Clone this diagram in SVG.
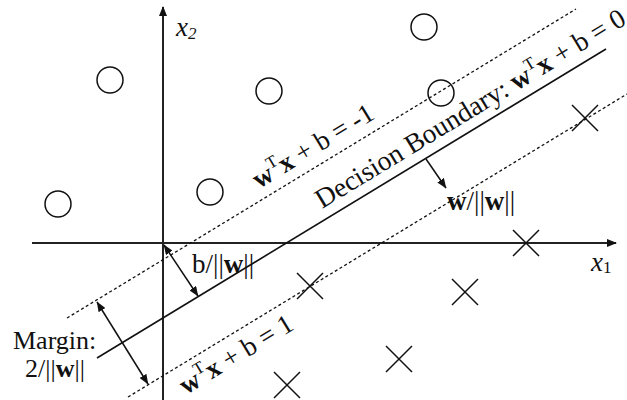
<svg xmlns="http://www.w3.org/2000/svg" width="627" height="400" viewBox="0 0 627 400">
<style>
.t{font-family:"Liberation Serif","Times New Roman",serif;font-size:27px;fill:#111}
.b{font-weight:bold}
.sup{font-size:17px}
.it{font-style:italic}
.pt{fill:none;stroke:#111;stroke-width:1.5}
.axis{stroke:#222;stroke-width:2;fill:none}
.dash{stroke:#111;stroke-width:1.3;stroke-dasharray:3 2.5;fill:none}
.solid{stroke:#111;stroke-width:1.6;fill:none}
.arr{stroke:#111;stroke-width:1.5;fill:none}
</style>
<defs>
<marker id="ax" viewBox="0 0 10 8" refX="9" refY="4" markerWidth="10" markerHeight="8" markerUnits="userSpaceOnUse" orient="auto"><path d="M0,0 L10,4 L0,8 z" fill="#111"/></marker>
<marker id="ah" viewBox="0 0 10 8" refX="9.5" refY="4" markerWidth="10" markerHeight="8" markerUnits="userSpaceOnUse" orient="auto-start-reverse"><path d="M0,0 L10,4 L0,8 z" fill="#111"/></marker>
</defs>
<g id="connectors">
<line id="x1-axis" class="axis" x1="32" y1="243" x2="616" y2="243" marker-end="url(#ax)"/>
<line id="x2-axis" class="axis" x1="163" y1="400" x2="163" y2="7" marker-end="url(#ax)"/>
<line id="boundary" class="solid" x1="97" y1="358" x2="606" y2="49"/>
<line id="margin-neg" class="dash" x1="67" y1="318" x2="576" y2="9"/>
<line id="margin-pos" class="dash" x1="128" y1="397" x2="627" y2="94"/>
<line id="b-arrow" class="arr" x1="164" y1="245" x2="198" y2="296" marker-start="url(#ah)" marker-end="url(#ah)"/>
<line id="margin-arrow" class="arr" x1="97" y1="302" x2="148" y2="384" marker-start="url(#ah)" marker-end="url(#ah)"/>
<line id="w-arrow" class="arr" x1="426" y1="159" x2="446" y2="188" marker-end="url(#ah)"/>
</g>
<g id="circles">
<circle class="pt" cx="110" cy="80" r="13"/>
<circle class="pt" cx="269" cy="91" r="13"/>
<circle class="pt" cx="210" cy="192" r="13"/>
<circle class="pt" cx="58" cy="204" r="13"/>
<circle class="pt" cx="424" cy="27" r="13"/>
<circle class="pt" cx="441" cy="93" r="13"/>
</g>
<g id="crosses" class="pt">
<path d="M572,105 L598,131 M598,105 L572,131"/>
<path d="M513,230 L539,256 M539,230 L513,256"/>
<path d="M297,273 L323,299 M323,273 L297,299"/>
<path d="M452,279 L478,305 M478,279 L452,305"/>
<path d="M386,346 L412,372 M412,346 L386,372"/>
<path d="M274,372 L300,398 M300,372 L274,398"/>
</g>
<g id="axis-labels">
<text class="t it" x="176" y="36">x<tspan class="sup" dy="3">2</tspan></text>
<text class="t it" x="591" y="271">x<tspan class="sup" dy="2" style="font-style:normal">1</tspan></text>
</g>
<g id="label-neg">
<text class="t" transform="translate(259,189) rotate(-31.26)"><tspan class="b">w</tspan><tspan class="sup" dy="-11">T</tspan><tspan class="b" dy="11">x</tspan> + b = -1</text>
</g>
<g id="label-boundary">
<text class="t" style="font-size:27.5px" transform="translate(322,209) rotate(-31.26)">Decision Boundary: <tspan class="b">w</tspan><tspan class="sup" dy="-11">T</tspan><tspan class="b" dy="11">x</tspan> + b = 0</text>
</g>
<g id="label-pos">
<text class="t" transform="translate(186,395) rotate(-31.26)"><tspan class="b">w</tspan><tspan class="sup" dy="-11">T</tspan><tspan class="b" dy="11">x</tspan> + b = 1</text>
</g>
<g id="label-w">
<text class="t" x="447" y="210"><tspan class="b">w</tspan>/||<tspan class="b">w</tspan>||</text>
</g>
<g id="label-b">
<text class="t" x="192" y="273">b/||<tspan class="b">w</tspan>||</text>
</g>
<g id="label-margin">
<text class="t" style="font-size:26px" x="13" y="349">Margin:</text>
<text class="t" style="font-size:26px" x="25" y="377">2/||<tspan class="b">w</tspan>||</text>
</g>
</svg>
